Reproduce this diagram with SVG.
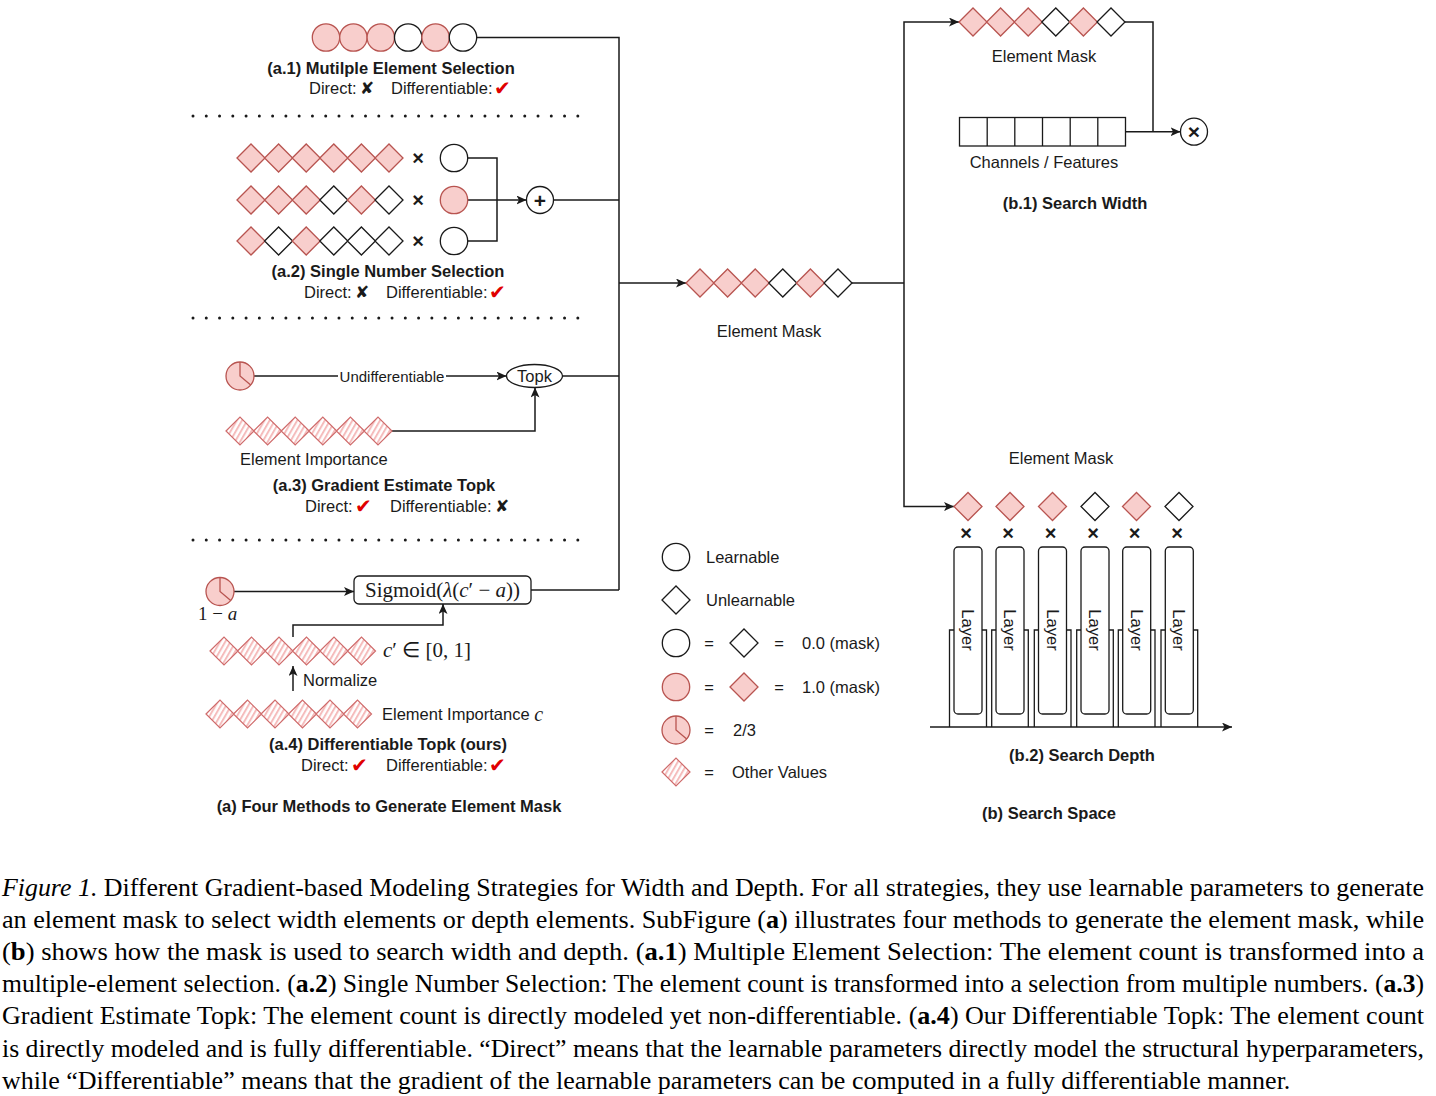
<svg xmlns="http://www.w3.org/2000/svg" xmlns:xlink="http://www.w3.org/1999/xlink" width="1436" height="1096" viewBox="0 0 1436 1096">
<style>
.pink{fill:#f8cecc;stroke:#b85450;stroke-width:1.3}
.wht{fill:#fff;stroke:#1a1a1a;stroke-width:1.3}
.hat{fill:url(#hatch);stroke:#cf6b6b;stroke-width:1.2}
.ln{fill:none;stroke:#1a1a1a;stroke-width:1.5}
.arr{marker-end:url(#ah)}
.dot{fill:none;stroke:#1a1a1a;stroke-width:3;stroke-linecap:round;stroke-dasharray:0 13.27}
text{font-family:"Liberation Sans",Arial,sans-serif;font-size:16.5px;fill:#1a1a1a;dominant-baseline:central}
.b{font-weight:bold}
.m{text-anchor:middle}
.red{fill:#e00000;font-family:"DejaVu Sans",sans-serif;font-size:20px}
.blk{font-family:"DejaVu Sans",sans-serif;font-size:17px}
.math{font-family:"Liberation Serif","Times New Roman",serif;font-size:21px}
.cap{font-family:"Liberation Serif","Times New Roman",serif;font-size:26px;dominant-baseline:auto;fill:#000}
.x{font-weight:bold;font-size:20px;text-anchor:middle}
</style>
<defs>
<pattern id="hatch" patternUnits="userSpaceOnUse" width="4.5" height="4.5" patternTransform="rotate(30)">
<rect width="4.5" height="4.5" fill="#fff"/>
<rect width="2" height="4.5" fill="#f5bcbc"/>
</pattern>
<marker id="ah" markerUnits="userSpaceOnUse" markerWidth="11" markerHeight="9" refX="10" refY="4.5" orient="auto">
<path d="M0,0 L10,4.5 L0,9 L2.5,4.5 z" fill="#1a1a1a"/>
</marker>
<polygon id="dP" class="pink" points="-14,0 0,-14 14,0 0,14"/>
<polygon id="dW" class="wht" points="-14,0 0,-14 14,0 0,14"/>
<polygon id="dH" class="hat" points="-14,0 0,-14 14,0 0,14"/>
<circle id="cP" class="pink" r="13.7"/>
<circle id="cW" class="wht" r="13.7"/>
<g id="pie">
<circle class="pink" r="14"/>
<path d="M0,-14 L0,0 L10.7,9" fill="none" stroke="#b85450" stroke-width="1.3"/>
</g>
</defs>

<g id="connectors">
<path class="ln" d="M477,37.5 H619 V590"/>
<path class="ln arr" d="M619,283 H686"/>
<path class="ln" d="M467.7,158 H497 V241 H467.7"/>
<path class="ln arr" d="M467.7,200 H526.5"/>
<path class="ln" d="M553.5,200 H619"/>
<path class="ln" d="M254,376 H338"/>
<path class="ln arr" d="M446,376 H506.5"/>
<path class="ln" d="M562.5,376 H619"/>
<path class="ln arr" d="M392,431 H535 V387.5"/>
<path class="ln arr" d="M234,591.5 H354"/>
<path class="ln" d="M531,590 H619"/>
<path class="ln arr" d="M293,637 V625 H443 V604"/>
<path class="ln arr" d="M293,691 V666"/>
<path class="ln" d="M852,283 H904"/>
<path class="ln arr" d="M904,283 V22 H959"/>
<path class="ln arr" d="M904,283 V506.5 H954"/>
<path class="ln" d="M1125,22 H1153 V131.7"/>
<path class="ln arr" d="M1126,131.7 H1180.5"/>
<path class="ln arr" d="M930,727 H1232"/>
<path class="dot" d="M193,116 H580"/>
<path class="dot" d="M193,318 H580"/>
<path class="dot" d="M193,540 H580"/>
</g>

<g id="a1">
<use href="#cP" x="326" y="37.5"/><use href="#cP" x="353.4" y="37.5"/><use href="#cP" x="380.8" y="37.5"/>
<use href="#cW" x="408.2" y="37.5"/><use href="#cP" x="435.6" y="37.5"/><use href="#cW" x="463" y="37.5"/>
<text class="b m" x="391" y="68">(a.1) Mutilple Element Selection</text>
<text x="309" y="88">Direct:</text><text class="blk" x="360" y="88">✘</text>
<text x="391" y="88">Differentiable:</text><text class="red" x="494" y="88">✔</text>
</g>

<g id="a2">
<use href="#dP" x="251" y="158"/><use href="#dP" x="278.6" y="158"/><use href="#dP" x="306.2" y="158"/>
<use href="#dP" x="333.8" y="158"/><use href="#dP" x="361.4" y="158"/><use href="#dP" x="389" y="158"/>
<use href="#dP" x="251" y="200"/><use href="#dP" x="278.6" y="200"/><use href="#dP" x="306.2" y="200"/>
<use href="#dW" x="333.8" y="200"/><use href="#dP" x="361.4" y="200"/><use href="#dW" x="389" y="200"/>
<use href="#dP" x="251" y="241"/><use href="#dW" x="278.6" y="241"/><use href="#dP" x="306.2" y="241"/>
<use href="#dW" x="333.8" y="241"/><use href="#dW" x="361.4" y="241"/><use href="#dW" x="389" y="241"/>
<text class="x" x="418" y="158">×</text><text class="x" x="418" y="200">×</text><text class="x" x="418" y="241">×</text>
<use href="#cW" x="454" y="158"/><use href="#cP" x="454" y="200"/><use href="#cW" x="454" y="241"/>
<circle class="wht" cx="540" cy="200" r="13.5"/>
<text class="b m" x="540" y="200" style="font-size:21px">+</text>
<text class="b m" x="388" y="271">(a.2) Single Number Selection</text>
<text x="304" y="292">Direct:</text><text class="blk" x="355" y="292">✘</text>
<text x="386" y="292">Differentiable:</text><text class="red" x="489" y="292">✔</text>
</g>

<g id="a3">
<use href="#pie" x="240" y="376"/>
<text class="m" x="392" y="376" style="font-size:15px">Undifferentiable</text>
<ellipse class="wht" cx="534.5" cy="376" rx="28" ry="11.5"/>
<text class="m" x="534.5" y="376">Topk</text>
<use href="#dH" x="240" y="431"/><use href="#dH" x="267.6" y="431"/><use href="#dH" x="295.2" y="431"/>
<use href="#dH" x="322.8" y="431"/><use href="#dH" x="350.4" y="431"/><use href="#dH" x="378" y="431"/>
<text x="240" y="459">Element Importance</text>
<text class="b m" x="384" y="485">(a.3) Gradient Estimate Topk</text>
<text x="305" y="506">Direct:</text><text class="red" x="355" y="506">✔</text>
<text x="390" y="506">Differentiable:</text><text class="blk" x="495" y="506">✘</text>
</g>

<g id="a4">
<use href="#pie" x="220" y="591.5"/>
<text class="math" x="198" y="613" style="font-size:19px">1 − <tspan font-style="italic">a</tspan></text>
<rect class="wht" x="354" y="576" width="177" height="28" rx="5"/>
<text class="math m" x="442.5" y="589.5">Sigmoid(<tspan font-style="italic">λ</tspan>(<tspan font-style="italic">c</tspan>′ − <tspan font-style="italic">a</tspan>))</text>
<use href="#dH" x="224" y="651"/><use href="#dH" x="251.5" y="651"/><use href="#dH" x="279" y="651"/>
<use href="#dH" x="306.5" y="651"/><use href="#dH" x="334" y="651"/><use href="#dH" x="361.5" y="651"/>
<text class="math" x="383" y="650"><tspan font-style="italic">c</tspan>′ ∈ [0, 1]</text>
<text x="303" y="680">Normalize</text>
<use href="#dH" x="220" y="714"/><use href="#dH" x="247.5" y="714"/><use href="#dH" x="275" y="714"/>
<use href="#dH" x="302.5" y="714"/><use href="#dH" x="330" y="714"/><use href="#dH" x="357.5" y="714"/>
<text x="382" y="714">Element Importance <tspan class="math" font-style="italic" style="font-size:20px">c</tspan></text>
<text class="b m" x="388" y="744">(a.4) Differentiable Topk (ours)</text>
<text x="301" y="765">Direct:</text><text class="red" x="351" y="765">✔</text>
<text x="386" y="765">Differentiable:</text><text class="red" x="489" y="765">✔</text>
<text class="b m" x="389" y="806">(a) Four Methods to Generate Element Mask</text>
</g>

<g id="mask-center">
<use href="#dP" x="700" y="283"/><use href="#dP" x="727.6" y="283"/><use href="#dP" x="755.2" y="283"/>
<use href="#dW" x="782.8" y="283"/><use href="#dP" x="810.4" y="283"/><use href="#dW" x="838" y="283"/>
<text class="m" x="769" y="331">Element Mask</text>
</g>

<g id="b1">
<use href="#dP" x="973" y="22"/><use href="#dP" x="1000.6" y="22"/><use href="#dP" x="1028.2" y="22"/>
<use href="#dW" x="1055.8" y="22"/><use href="#dP" x="1083.4" y="22"/><use href="#dW" x="1111" y="22"/>
<text class="m" x="1044" y="56">Element Mask</text>
<rect class="wht" x="959.5" y="117.5" width="166" height="28.5"/>
<path class="ln" d="M987.2,117.5 V146 M1014.8,117.5 V146 M1042.5,117.5 V146 M1070.2,117.5 V146 M1097.8,117.5 V146" style="stroke-width:1.3"/>
<circle class="wht" cx="1194" cy="131.7" r="13.5"/>
<text class="b m" x="1194" y="131.5" style="font-size:21px">×</text>
<text class="m" x="1044" y="162">Channels / Features</text>
<text class="b m" x="1075" y="203">(b.1) Search Width</text>
</g>

<g id="b2">
<text class="m" x="1061" y="458">Element Mask</text>
<use href="#dP" x="968" y="506.5"/><use href="#dP" x="1010" y="506.5"/><use href="#dP" x="1052.5" y="506.5"/>
<use href="#dW" x="1095" y="506.5"/><use href="#dP" x="1136.5" y="506.5"/><use href="#dW" x="1179" y="506.5"/>
<text class="x" x="966" y="533">×</text><text class="x" x="1008" y="533">×</text><text class="x" x="1050.5" y="533">×</text>
<text class="x" x="1093" y="533">×</text><text class="x" x="1134.5" y="533">×</text><text class="x" x="1177" y="533">×</text>
<g id="layer1"><path class="ln" d="M949.5,727 V630 H986.5 V727" style="stroke-width:1.3"/><rect class="wht" x="954" y="547" width="28" height="167" rx="4"/><text class="m" transform="translate(968,630) rotate(90)">Layer</text></g>
<g id="layer2"><path class="ln" d="M991.7,727 V630 H1028.3 V727" style="stroke-width:1.3"/><rect class="wht" x="996" y="547" width="28" height="167" rx="4"/><text class="m" transform="translate(1010,630) rotate(90)">Layer</text></g>
<g id="layer3"><path class="ln" d="M1034.3,727 V630 H1071 V727" style="stroke-width:1.3"/><rect class="wht" x="1038.5" y="547" width="28" height="167" rx="4"/><text class="m" transform="translate(1052.5,630) rotate(90)">Layer</text></g>
<g id="layer4"><path class="ln" d="M1076.7,727 V630 H1113.3 V727" style="stroke-width:1.3"/><rect class="wht" x="1081" y="547" width="28" height="167" rx="4"/><text class="m" transform="translate(1095,630) rotate(90)">Layer</text></g>
<g id="layer5"><path class="ln" d="M1118.3,727 V630 H1155 V727" style="stroke-width:1.3"/><rect class="wht" x="1122.7" y="547" width="28" height="167" rx="4"/><text class="m" transform="translate(1136.7,630) rotate(90)">Layer</text></g>
<g id="layer6"><path class="ln" d="M1161,727 V630 H1197.7 V727" style="stroke-width:1.3"/><rect class="wht" x="1165.3" y="547" width="28" height="167" rx="4"/><text class="m" transform="translate(1179.3,630) rotate(90)">Layer</text></g>
<text class="b m" x="1082" y="755">(b.2) Search Depth</text>
<text class="b m" x="1049" y="813">(b) Search Space</text>
</g>

<g id="legend">
<use href="#cW" x="676" y="557"/><text x="706" y="557">Learnable</text>
<use href="#dW" x="676" y="600"/><text x="706" y="600">Unlearnable</text>
<use href="#cW" x="676" y="643"/><text class="m" x="709" y="643">=</text><use href="#dW" x="744" y="643"/><text class="m" x="779" y="643">=</text><text x="802" y="643">0.0 (mask)</text>
<use href="#cP" x="676" y="687"/><text class="m" x="709" y="687">=</text><use href="#dP" x="744" y="687"/><text class="m" x="779" y="687">=</text><text x="802" y="687">1.0 (mask)</text>
<use href="#pie" x="676" y="730"/><text class="m" x="709" y="730">=</text><text x="733" y="730">2/3</text>
<use href="#dH" x="676" y="772"/><text class="m" x="709" y="772">=</text><text x="732" y="772">Other Values</text>
</g>

<g id="caption">
<text class="cap" x="2" y="896" textLength="1422" lengthAdjust="spacingAndGlyphs"><tspan font-style="italic">Figure 1.</tspan> Different Gradient-based Modeling Strategies for Width and Depth. For all strategies, they use learnable parameters to generate</text>
<text class="cap" x="2" y="928" textLength="1422" lengthAdjust="spacingAndGlyphs">an element mask to select width elements or depth elements. SubFigure (<tspan font-weight="bold">a</tspan>) illustrates four methods to generate the element mask, while</text>
<text class="cap" x="2" y="960" textLength="1422" lengthAdjust="spacingAndGlyphs">(<tspan font-weight="bold">b</tspan>) shows how the mask is used to search width and depth. (<tspan font-weight="bold">a.1</tspan>) Multiple Element Selection: The element count is transformed into a</text>
<text class="cap" x="2" y="992" textLength="1422" lengthAdjust="spacingAndGlyphs">multiple-element selection. (<tspan font-weight="bold">a.2</tspan>) Single Number Selection: The element count is transformed into a selection from multiple numbers. (<tspan font-weight="bold">a.3</tspan>)</text>
<text class="cap" x="2" y="1024" textLength="1422" lengthAdjust="spacingAndGlyphs">Gradient Estimate Topk: The element count is directly modeled yet non-differentiable. (<tspan font-weight="bold">a.4</tspan>) Our Differentiable Topk: The element count</text>
<text class="cap" x="2" y="1057" textLength="1422" lengthAdjust="spacingAndGlyphs">is directly modeled and is fully differentiable. “Direct” means that the learnable parameters directly model the structural hyperparameters,</text>
<text class="cap" x="2" y="1089">while “Differentiable” means that the gradient of the learnable parameters can be computed in a fully differentiable manner.</text>
</g>
</svg>
